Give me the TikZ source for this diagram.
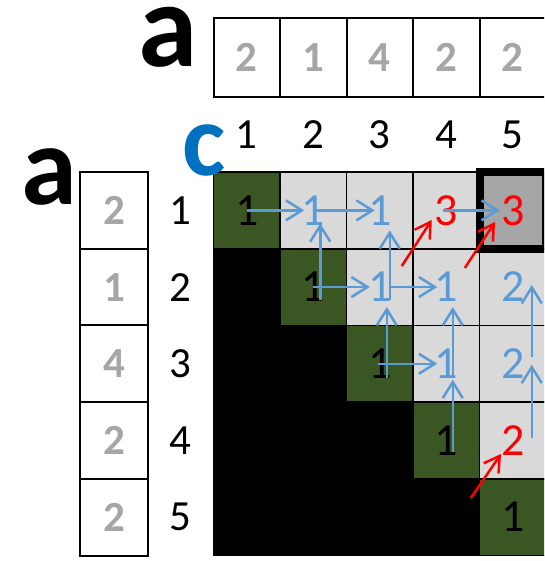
\documentclass[tikz,border=0pt]{standalone}
\usepackage{fontspec}
\setmainfont{Carlito}
\usetikzlibrary{arrows.meta,calc}
\definecolor{cgreen}{HTML}{3A5623}
\definecolor{cgray}{HTML}{D9D9D9}
\definecolor{cdark}{HTML}{A6A6A6}
\definecolor{cblue}{HTML}{5B9BD5}
\definecolor{cred}{HTML}{FF0000}
\definecolor{cletter}{HTML}{0070C0}
\definecolor{cnum}{HTML}{A6A6A6}
\tikzset{
  cellbox/.style={draw=black, line width=1.8pt, minimum width=66.5pt, minimum height=76.7pt,
    inner sep=0pt, font=\fontsize{46}{50}\selectfont},
  gcell/.style={cellbox, fill=cgreen, text=black},
  lcell/.style={cellbox, fill=cgray, text=cblue},
  bcell/.style={cellbox, fill=black},
  hcell/.style={cellbox, fill=cdark, text=cred, line width=8pt},
  arrbox/.style={draw=black, line width=2pt, fill=white, inner sep=0pt,
    font=\fontsize{43}{48}\selectfont\bfseries, text=cnum},
  idx/.style={inner sep=0pt, font=\fontsize{43}{48}\selectfont, text=black},
  barrow/.style={draw=cblue, line width=2.5pt, -{Straight Barb[length=16pt,width=20pt]}},
  rarrow/.style={draw=cred, line width=2.5pt, -{Straight Barb[length=15pt,width=18pt]}},
}
\begin{document}
\begin{tikzpicture}[x=1pt,y=-1pt]
\useasboundingbox (0,0) rectangle (544,561);
\clip (0,0) rectangle (544,561);
% grid cells: column centres 246.75 + 66.5(j-1), row centres 210.35 + 76.7(i-1)
\node[gcell] (c11) at (246.75,210.35) {1};
\node[lcell] (c12) at (313.25,210.35) {1};
\node[lcell] (c13) at (379.75,210.35) {1};
\node[lcell, text=cred] (c14) at (446.25,210.35) {3};
\node[bcell] (c21) at (246.75,287.05) {};
\node[gcell] (c22) at (313.25,287.05) {1};
\node[lcell] (c23) at (379.75,287.05) {1};
\node[lcell] (c24) at (446.25,287.05) {1};
\node[lcell] (c25) at (512.75,287.05) {2};
\node[bcell] (c31) at (246.75,363.75) {};
\node[bcell] (c32) at (313.25,363.75) {};
\node[gcell] (c33) at (379.75,363.75) {1};
\node[lcell] (c34) at (446.25,363.75) {1};
\node[lcell] (c35) at (512.75,363.75) {2};
\node[bcell] (c41) at (246.75,440.45) {};
\node[bcell] (c42) at (313.25,440.45) {};
\node[bcell] (c43) at (379.75,440.45) {};
\node[gcell] (c44) at (446.25,440.45) {1};
\node[lcell, text=cred] (c45) at (512.75,440.45) {2};
\node[bcell] (c51) at (246.75,517.15) {};
\node[bcell] (c52) at (313.25,517.15) {};
\node[bcell] (c53) at (379.75,517.15) {};
\node[bcell] (c54) at (446.25,517.15) {};
\node[gcell] (c55) at (512.75,517.15) {1};
\node[hcell] (c15) at (512.75,210.35) {3};
% top array
\foreach \v [count=\j] in {2,1,4,2,2}
  \node[arrbox, minimum width=66.5pt, minimum height=79pt] (ta\j) at ({180.25+66.5*\j},57.5) {\v};
% left array
\foreach \v [count=\i] in {2,1,4,2,2}
  \node[arrbox, minimum width=68pt, minimum height=76.7pt] (la\i) at (114,{133.65+76.7*\i}) {\v};
% indices
\foreach \j in {1,...,5}
  \node[idx] (col\j) at ({180.25+66.5*\j},135) {\j};
\foreach \i in {1,...,5}
  \node[idx] (row\i) at (180,{133.65+76.7*\i}) {\i};
% letters
\node[inner sep=0pt, font=\fontsize{120}{120}\selectfont\bfseries] (atop) at (168,37) {a};
\node[inner sep=0pt, font=\fontsize{113}{113}\selectfont\bfseries] (aleft) at (49,177) {a};
\node[inner sep=0pt, font=\fontsize{103}{103}\selectfont\bfseries, text=cletter] (clab) at (204,151) {c};
% horizontal arrows
\draw[barrow] (c11.center) -- ([xshift=-9pt]c12.center);
\draw[barrow] ([xshift=3pt]c12.center) -- ([xshift=-5pt]c13.center);
\draw[barrow] ([xshift=-3pt]c14.center) -- ([xshift=-13pt]c15.center);
\draw[barrow] (c22.center) -- ([xshift=-10pt]c23.center);
\draw[barrow] ([xshift=10pt]c23.center) -- ([xshift=-9pt]c24.center);
\draw[barrow] ([xshift=-2pt]c33.center) -- ([xshift=-9pt]c34.center);
% vertical arrows
\draw[barrow] ([xshift=7pt,yshift=-13pt]c22.center) -- ([xshift=7pt,yshift=-13pt]c12.center);
\draw[barrow] ([xshift=10pt,yshift=-13pt]c23.center) -- ([xshift=10pt,yshift=-20pt]c13.center);
\draw[barrow] ([xshift=7pt,yshift=-14pt]c33.center) -- ([xshift=7pt,yshift=-20pt]c23.center);
\draw[barrow] ([xshift=6.5pt,yshift=-14pt]c34.center) -- ([xshift=6.5pt,yshift=-20pt]c24.center);
\draw[barrow] ([xshift=6.5pt,yshift=-12pt]c44.center) -- ([xshift=6.5pt,yshift=-16pt]c34.center);
\draw[barrow] ([xshift=19pt,yshift=7pt]c35.center) -- ([xshift=19pt,yshift=2pt]c25.center);
\draw[barrow] ([xshift=19pt,yshift=2pt]c45.center) -- ([xshift=19pt,yshift=-1pt]c35.center);
% red diagonal arrows
\draw[rarrow] ([xshift=22pt,yshift=21pt]c23.center) -- ([xshift=-14.5pt,yshift=-9.65pt]c14.center);
\draw[rarrow] ([xshift=18.5pt,yshift=19pt]c24.center) -- ([xshift=-17.75pt,yshift=-11.65pt]c15.center);
\draw[rarrow] ([xshift=24.5pt,yshift=19pt]c54.center) -- ([xshift=-11.75pt,yshift=-13.5pt]c45.center);
\end{tikzpicture}
\end{document}
